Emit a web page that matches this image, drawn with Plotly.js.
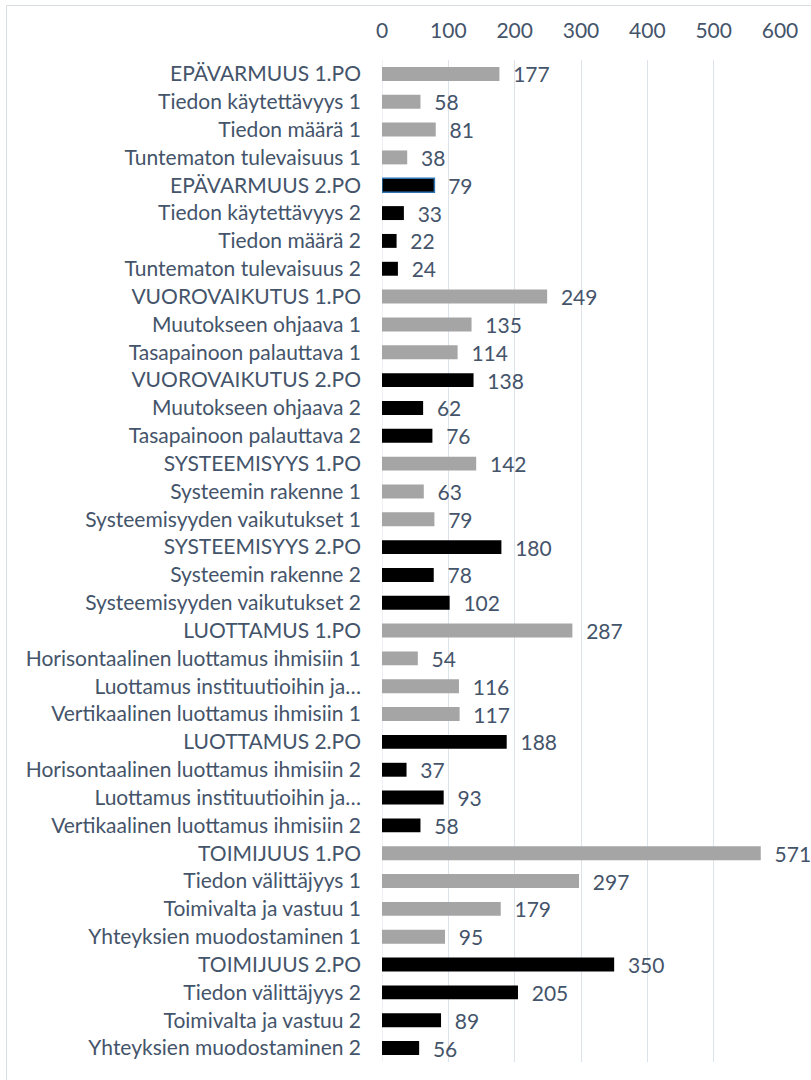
<!DOCTYPE html>
<html>
<head>
<meta charset="utf-8">
<script src="https://cdn.plot.ly/plotly-3.0.1.min.js"></script>
<style>
  html, body { margin: 0; padding: 0; background: #fff; overflow: hidden; }
  #wrap { position: relative; width: 811px; height: 1080px; }
  #chart { position: absolute; left: 0; top: 0; width: 811px; height: 1080px; }
  #frame { position: absolute; left: 6px; top: 5px; width: 820px; height: 1090px;
           border: 1px solid #D9DEE5; pointer-events: none; }
</style>
</head>
<body>
<div id="wrap">
  <div id="chart"></div>
  <div id="frame"></div>
</div>
<script>
const categories = [
  "EPÄVARMUUS 1.PO", "Tiedon käytettävyys 1", "Tiedon määrä 1", "Tuntematon tulevaisuus 1",
  "EPÄVARMUUS 2.PO", "Tiedon käytettävyys 2", "Tiedon määrä 2", "Tuntematon tulevaisuus 2",
  "VUOROVAIKUTUS 1.PO", "Muutokseen ohjaava 1", "Tasapainoon palauttava 1",
  "VUOROVAIKUTUS 2.PO", "Muutokseen ohjaava 2", "Tasapainoon palauttava 2",
  "SYSTEEMISYYS 1.PO", "Systeemin rakenne 1", "Systeemisyyden vaikutukset 1",
  "SYSTEEMISYYS 2.PO", "Systeemin rakenne 2", "Systeemisyyden vaikutukset 2",
  "LUOTTAMUS 1.PO", "Horisontaalinen luottamus ihmisiin 1", "Luottamus instituutioihin ja…", "Vertikaalinen luottamus ihmisiin 1",
  "LUOTTAMUS 2.PO", "Horisontaalinen luottamus ihmisiin 2", "Luottamus instituutioihin ja…", "Vertikaalinen luottamus ihmisiin 2",
  "TOIMIJUUS 1.PO", "Tiedon välittäjyys 1", "Toimivalta ja vastuu 1", "Yhteyksien muodostaminen 1",
  "TOIMIJUUS 2.PO", "Tiedon välittäjyys 2", "Toimivalta ja vastuu 2", "Yhteyksien muodostaminen 2"
];
const values = [
  177, 58, 81, 38,
  79, 33, 22, 24,
  249, 135, 114,
  138, 62, 76,
  142, 63, 79,
  180, 78, 102,
  287, 54, 116, 117,
  188, 37, 93, 58,
  571, 297, 179, 95,
  350, 205, 89, 56
];
const series = [
  1, 1, 1, 1,
  2, 2, 2, 2,
  1, 1, 1,
  2, 2, 2,
  1, 1, 1,
  2, 2, 2,
  1, 1, 1, 1,
  2, 2, 2, 2,
  1, 1, 1, 1,
  2, 2, 2, 2
];
const xTicks = [0, 100, 200, 300, 400, 500, 600];

const textColor = "#44546A";
const fontFamily = "Lato, 'Open Sans', sans-serif";
const fontSize = 21;
const positions = categories.map((c, i) => i);
const colors = series.map(s => s === 1 ? "#A5A5A5" : "#000000");
const lineColors = categories.map((c, i) => i === 4 ? "#2E75B6" : "rgba(0,0,0,0)");
const lineWidths = categories.map((c, i) => i === 4 ? 1.5 : 0);

const trace = {
  type: "bar",
  orientation: "h",
  x: values,
  y: positions,
  width: 0.5,
  marker: { color: colors, line: { color: lineColors, width: lineWidths } },
  texttemplate: "\u00a0\u00a0%{x}",
  textposition: "outside",
  constraintext: "none",
  cliponaxis: false,
  textfont: { family: fontFamily, size: fontSize, color: textColor },
  hoverinfo: "x"
};

const layout = {
  width: 811,
  height: 1080,
  margin: { l: 382, r: 31, t: 60, b: 18 },
  paper_bgcolor: "#ffffff",
  plot_bgcolor: "#ffffff",
  showlegend: false,
  font: { family: fontFamily, size: fontSize, color: textColor },
  xaxis: {
    side: "top",
    range: [0, 600],
    tickvals: xTicks,
    ticktext: xTicks.map(String),
    showgrid: true,
    gridcolor: "#DCE3EB",
    gridwidth: 1,
    zeroline: false,
    showline: false,
    ticks: "",
    ticklabelstandoff: 17,
    tickfont: { family: fontFamily, size: fontSize, color: textColor },
    fixedrange: true
  },
  yaxis: {
    range: [35.5, -0.5],
    tickvals: positions,
    ticktext: categories,
    showgrid: false,
    zeroline: false,
    showline: false,
    ticks: "",
    ticklabelstandoff: 20,
    tickfont: { family: fontFamily, size: fontSize, color: textColor },
    fixedrange: true
  },
  shapes: [{
    type: "line", xref: "x", yref: "paper", x0: 0, x1: 0, y0: 0, y1: 1,
    line: { color: "#DCE3EB", width: 1 }, layer: "below"
  }]
};

Plotly.newPlot("chart", [trace], layout, { displayModeBar: false, staticPlot: true });
</script>
</body>
</html>
